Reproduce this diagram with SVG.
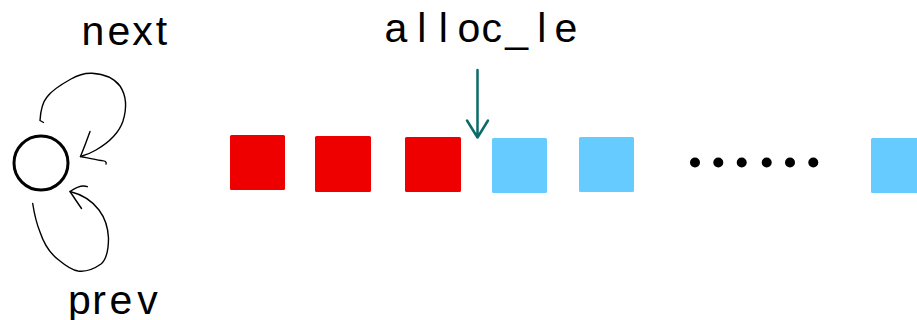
<svg xmlns="http://www.w3.org/2000/svg" width="917" height="320" viewBox="0 0 917 320">
  <style>
    .lbl { font-family: "Liberation Sans", Arial, sans-serif; font-size: 41px; fill: #000; text-anchor: middle; }
    .used { fill: #EE0000; }
    .free { fill: #66CCFF; }
    .hand { fill: none; stroke: #000; stroke-width: 1.4; stroke-linecap: round; stroke-linejoin: round; }
    .ptr { fill: none; stroke: #0B6B6B; stroke-width: 2.5; stroke-linecap: round; stroke-linejoin: round; }
  </style>
  <rect width="917" height="320" fill="#fff"/>

  <!-- list head -->
  <g id="head">
    <circle cx="41" cy="163" r="27" fill="none" stroke="#000" stroke-width="3"/>
  </g>
  <g id="label-next">
    <text class="lbl" x="93 119 142.5 161.5" y="45">next</text>
  </g>
  <g id="label-prev">
    <text class="lbl" x="79.5 99 120.8 147.5" y="314">prev</text>
  </g>
  <g id="label-alloc">
    <text class="lbl" x="395.8 421.7 443.3 469 491.7 516.7 541.7 565.8" y="42">alloc_le</text>
  </g>

  <!-- allocated elements -->
  <g id="used-1"><rect class="used" x="230" y="135" width="55" height="55" rx="1.5"/></g>
  <g id="used-2"><rect class="used" x="315" y="136" width="56" height="56" rx="1.5"/></g>
  <g id="used-3"><rect class="used" x="405" y="137" width="56" height="55" rx="1.5"/></g>

  <!-- free elements -->
  <g id="free-1"><rect class="free" x="492" y="138" width="55" height="55" rx="1.5"/></g>
  <g id="free-2"><rect class="free" x="579" y="137" width="55" height="55" rx="1.5"/></g>
  <g id="free-n"><rect class="free" x="871" y="138" width="55" height="55" rx="1.5"/></g>

  <!-- ellipsis -->
  <g id="ellipsis" fill="#000">
    <circle cx="695" cy="162.5" r="5"/>
    <circle cx="718.3" cy="162.5" r="5"/>
    <circle cx="741.7" cy="162.5" r="5"/>
    <circle cx="766.7" cy="162.5" r="5"/>
    <circle cx="790" cy="162.5" r="5"/>
    <circle cx="813.3" cy="162.5" r="5"/>
  </g>

  <!-- connectors -->
  <g id="connectors">
    <!-- next: self loop over the top -->
    <path class="hand" d="M43.5,122.5 L40,120.5 C40.5,112 42,103 47,97 C52,90 62,84 71,79 C78,75 85,73 92,73.3 C103,74 114,78 120,86 C126,95 127,108 123,121 C119,133 108,143 96,150 C91,153 86,155 80.5,156.5"/>
    <path class="hand" d="M90,131.5 C87,140 84,148 80.5,156.5 C88,158 95,159.5 101,160.5 C104,161 107,161 106,164"/>
    <!-- prev: self loop underneath -->
    <path class="hand" d="M32.7,203.5 C34,212 36,222 40,232 C44,244 50,254 60,261 C66,266 72,270 78,271 C86,272 94,269 101,264 C107,259 108.5,250 108.5,238 C108,227 105,218 99,210 C93,202 84,195 70,191.5"/>
    <path class="hand" d="M87.3,186.7 C83,185 78,186 70,191.5 C73,196 77,202 81.5,208.5"/>
    <!-- alloc_le pointer -->
    <path class="ptr" d="M477.5,70 L477.5,137.5 M467,120.5 L477.5,137.5 L488,120.5"/>
  </g>
</svg>
